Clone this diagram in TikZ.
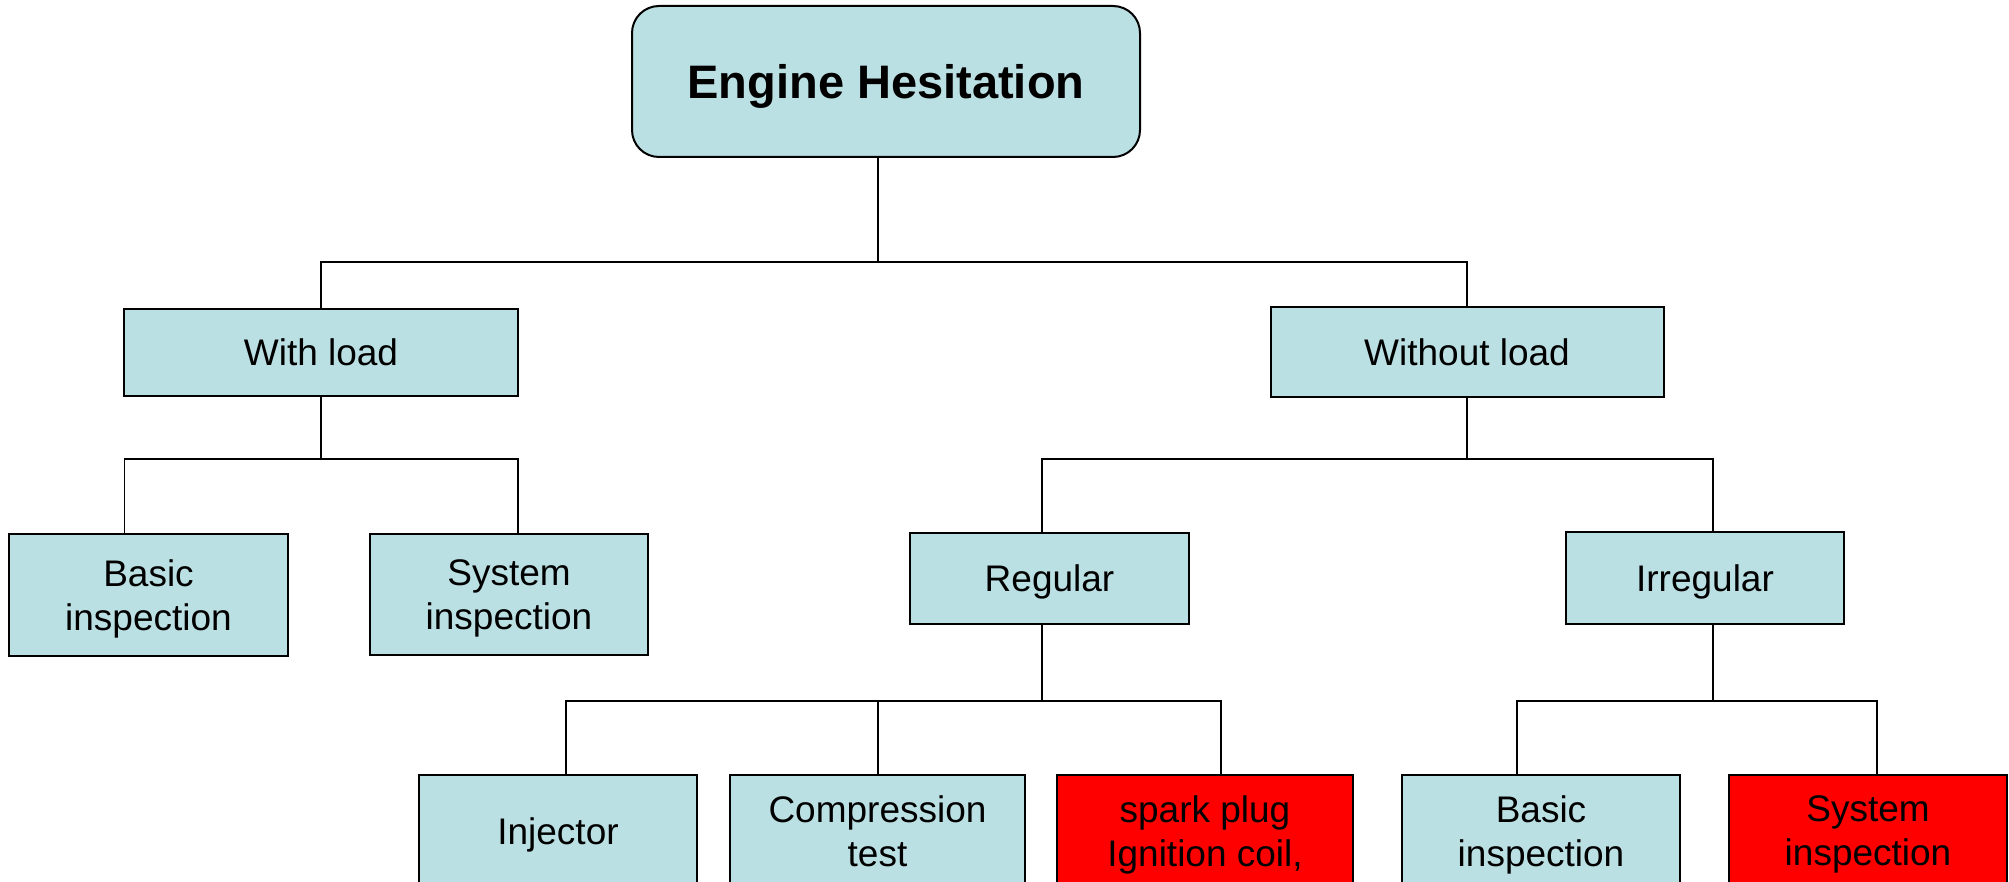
\documentclass[tikz,border=0pt]{standalone}
\usepackage{fontspec}
\setmainfont{Liberation Sans}
\definecolor{boxblue}{RGB}{187,224,227}
\definecolor{boxred}{RGB}{255,0,0}
\begin{document}
\begin{tikzpicture}[x=1pt,y=-1pt,
  bbox/.style={draw=black, line width=2pt, fill=boxblue, inner sep=0pt, outer sep=0pt,
    align=center, font=\fontsize{37}{44}\selectfont, minimum height=112pt, text depth=0pt},
  rbox/.style={bbox, fill=boxred},
  conn/.style={draw=black, line width=1.6pt}]
\useasboundingbox (0,0) rectangle (2009,882);
\clip (0,0) rectangle (2009,882);
\fill[white] (0,0) rectangle (2009,882);

\node[bbox, rounded corners=27pt, minimum width=508pt, minimum height=151pt,
  font=\bfseries\fontsize{47}{56}\selectfont] (top) at (886,81.5) {Engine Hesitation};
\node[bbox, minimum width=394pt, minimum height=87pt] (wl) at (321,352.5) {With load};
\node[bbox, minimum width=393pt, minimum height=90pt] (wol) at (1467,352) {Without load};
\node[bbox, minimum width=279pt, minimum height=122pt] (bi1) at (148.5,595) {Basic\\inspection};
\node[bbox, minimum width=278pt, minimum height=121pt] (si1) at (509,594.5) {System\\inspection};
\node[bbox, minimum width=279pt, minimum height=91pt] (reg) at (1049.5,578.5) {Regular};
\node[bbox, minimum width=278pt, minimum height=92pt] (irr) at (1705,578) {Irregular};
\node[bbox, minimum width=278pt] (inj) at (558,831) {Injector};
\node[bbox, minimum width=295pt] (comp) at (877.5,831) {Compression\\test};
\node[rbox, minimum width=296pt] (spark) at (1205,831) {spark plug\\Ignition coil,};
\node[bbox, minimum width=278pt] (bi2) at (1541,831) {Basic\\inspection};
\node[rbox, minimum width=278pt] (si2) at (1868,831) {System\\inspection};

% bar levels
\coordinate (b1) at (0,262);
\coordinate (b2) at (0,459);
\coordinate (b3) at (0,701);

% top -> level 1
\coordinate (t1) at ([xshift=-8pt]top.south);
\draw[conn] (t1) -- (t1 |- b1);
\draw[conn] (wl.north) |- (wol.north |- b1) -- (wol.north);

% with load -> children
\draw[conn] (wl.south) -- (wl.south |- b2);
\coordinate (c1) at ([xshift=-24pt]bi1.north);
\coordinate (c2) at ([xshift=9pt]si1.north);
\draw[conn] (c1) |- (c2 |- b2) -- (c2);

% without load -> children
\draw[conn] (wol.south) -- (wol.south |- b2);
\coordinate (c3) at ([xshift=-7.5pt]reg.north);
\coordinate (c4) at ([xshift=8pt]irr.north);
\draw[conn] (c3) |- (c4 |- b2) -- (c4);

% regular -> children
\coordinate (r0) at ([xshift=-7.5pt]reg.south);
\draw[conn] (r0) -- (r0 |- b3);
\coordinate (c5) at ([xshift=8pt]inj.north);
\coordinate (c6) at ([xshift=0.5pt]comp.north);
\coordinate (c7) at ([xshift=16pt]spark.north);
\draw[conn] (c5) |- (c7 |- b3) -- (c7);
\draw[conn] (c6) -- (c6 |- b3);

% irregular -> children
\coordinate (i0) at ([xshift=8pt]irr.south);
\draw[conn] (i0) -- (i0 |- b3);
\coordinate (c8) at ([xshift=-24pt]bi2.north);
\coordinate (c9) at ([xshift=9pt]si2.north);
\draw[conn] (c8) |- (c9 |- b3) -- (c9);
\end{tikzpicture}
\end{document}
